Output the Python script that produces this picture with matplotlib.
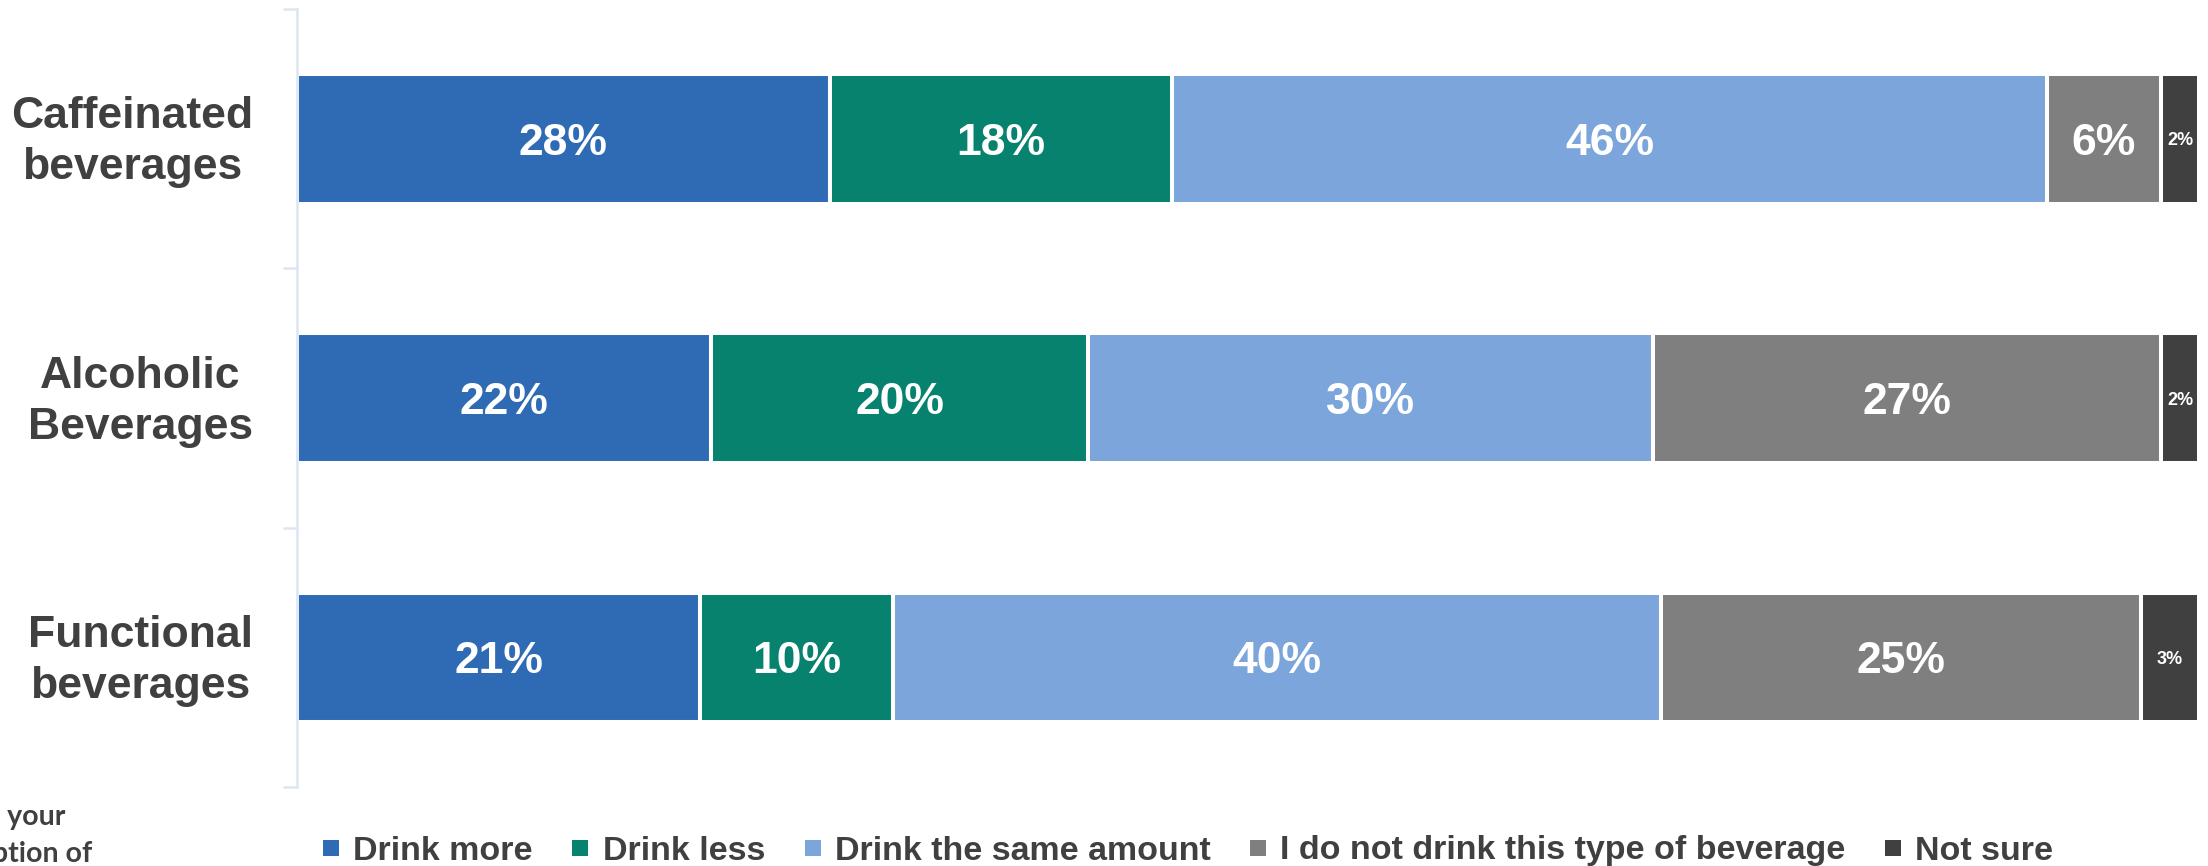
import numpy as np
import matplotlib
matplotlib.use("Agg")
import matplotlib.pyplot as plt
from matplotlib.lines import Line2D

# Survey results: change in consumption by beverage type (percent of respondents)
categories = ["Caffeinated\nbeverages", "Alcoholic\nBeverages", "Functional\nbeverages"]
responses = ["Drink more", "Drink less", "Drink the same amount",
             "I do not drink this type of beverage", "Not sure"]
drink_more = [28, 22, 21]
drink_less = [18, 20, 10]
drink_same = [46, 30, 40]
do_not_drink = [6, 27, 25]
not_sure = [2, 2, 3]
colors = ["#2F6BB5", "#06826F", "#7BA5DB", "#7F7F7F", "#404040"]

values = np.array([drink_more, drink_less, drink_same, do_not_drink, not_sure], dtype=float)
# 100% stacked bars: each row is scaled to its own total
shares = values / values.sum(axis=0) * 100

W, H = 2208, 866
fig = plt.figure(figsize=(W / 100, H / 100), dpi=100)
ax = fig.add_axes([297 / W, 79 / H, (2199 - 297) / W, (857 - 79) / H])

text_color = "#404040"
axis_color = "#DCE6F2"

y = np.arange(len(categories))
left = np.zeros(len(categories))
for i, (name, col) in enumerate(zip(responses, colors)):
    ax.barh(y, shares[i], left=left, height=0.5, color=col,
            edgecolor="white", linewidth=2.9, label=name)
    for j in range(len(categories)):
        small = values[i, j] < 5
        ax.text(left[j] + shares[i, j] / 2, y[j], f"{int(values[i, j])}%",
                ha="center", va="center_baseline", color="white",
                fontsize=13 if small else 32, fontweight="bold",
                family="Liberation Sans")
    left += shares[i]

ax.set_xlim(0, 100)
ax.set_ylim(2.5, -0.5)

for side in ["top", "right", "bottom"]:
    ax.spines[side].set_visible(False)
ax.spines["left"].set_color(axis_color)
ax.spines["left"].set_linewidth(1.8)

ax.set_xticks([])
ax.set_yticks(y)
ax.set_yticklabels([])
ax.set_yticks([-0.5, 0.5, 1.5, 2.5], minor=True)
ax.tick_params(axis="y", which="major", length=0)
ax.tick_params(axis="y", which="minor", length=10, width=1.8, color=axis_color)

# Category labels, centred line by line, to the left of the axis
for yj, cat in zip(y, categories):
    ax.annotate(cat, xy=(0, yj), xycoords=("axes fraction", "data"),
                xytext=(-44, 6), textcoords="offset pixels",
                ha="right", va="center_baseline", multialignment="center",
                family="Liberation Sans", fontweight="bold", fontsize=32,
                color=text_color, linespacing=1.32, annotation_clip=False)

handles = [Line2D([], [], ls="none", marker="s", markersize=12,
                  markerfacecolor=c, markeredgewidth=0) for c in colors]
fig.legend(handles, responses, loc="center", bbox_to_anchor=(1188 / W, 1 - 851 / H),
           ncol=5, frameon=False, handlelength=0.5, handletextpad=0.4,
           columnspacing=1.15, borderpad=0, borderaxespad=0,
           prop=dict(family="Liberation Sans", weight="bold", size=24.5),
           labelcolor=text_color)

# Question text at the lower left
fig.text(65 / W, 1 - 825 / H, "How has your", ha="right", va="baseline",
         family="Lato", fontweight="bold", fontsize=20.5, color=text_color)
fig.text(92 / W, 1 - 862 / H, "consumption of", ha="right", va="baseline",
         family="Lato", fontweight="bold", fontsize=20.5, color=text_color)

fig.savefig("out.png", dpi=100)
